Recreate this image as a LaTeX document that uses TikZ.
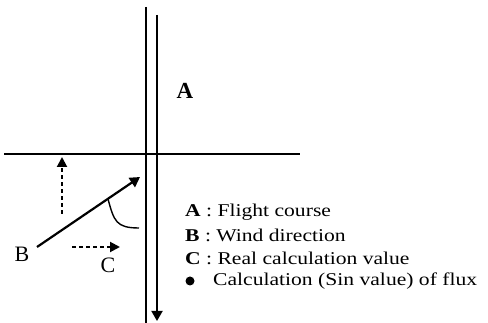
\documentclass[tikz,border=0pt]{standalone}
\usepackage{fontspec}
\setmainfont{Liberation Serif}
\newfontfamily\legendfont[FakeStretch=1.2]{Liberation Serif}
\usetikzlibrary{arrows.meta,positioning}

\tikzset{
  axis/.style={line width=1.8pt},
  tip/.style={-{Triangle[length=10pt,width=11pt]}},
  dashtip/.style={line width=2pt, dash pattern=on 4pt off 3pt, -{Triangle[length=10pt,width=10pt]}},
  legend/.style={anchor=west, inner sep=0pt, font=\legendfont\fontsize{18}{20}\selectfont}
}

\begin{document}
\begin{tikzpicture}[x=1pt,y=-1pt]
\useasboundingbox (0,0) rectangle (488,323);
% course lines
\coordinate (topL) at (146,7);
\coordinate (botL) at (146,323);
\coordinate (topR) at (157,15);
\coordinate (botR) at (157,321);
\coordinate (left) at (4,154);
\coordinate (right) at (300,154);
\draw[axis] (topL) -- (botL);
\draw[axis,tip] (topR) -- (botR);
\draw[axis] (left) -- (right);
% wind and components
\coordinate (wind0) at (37,247);
\coordinate (wind1) at (140,177);
\draw[line width=2.2pt,tip] (wind0) -- (wind1);
\coordinate (up0) at (62,214);
\coordinate (up1) at (62,157);
\draw[dashtip] (up0) -- (up1);
\coordinate (rt0) at (72,247);
\coordinate (rt1) at (120,247);
\draw[dashtip] (rt0) -- (rt1);
% angle
\coordinate (ang0) at (108,199);
\coordinate (ang1) at (139,228);
\draw[line width=1.4pt] (ang0) .. controls (114,221) and (116,228) .. (ang1);
% labels
\node[font=\bfseries\fontsize{23}{25}\selectfont] (labA) at (185,91) {A};
\node[font=\fontsize{22}{24}\selectfont] (labB) at (22,254) {B};
\node[font=\fontsize{22}{24}\selectfont] (labC) at (108,265) {C};
% legend
\node[legend] (legA) at (185,212) {\textbf{A} : Flight course};
\node[legend] (legB) at (185,235) {\textbf{B} : Wind direction};
\node[legend] (legC) at (185,258) {\textbf{C} : Real calculation value};
\node[circle, fill, inner sep=0pt, minimum size=9pt] (dot) at (190,281) {};
\node[legend] (legD) at (213,281) {Calculation (Sin value) of flux};
\end{tikzpicture}
\end{document}
